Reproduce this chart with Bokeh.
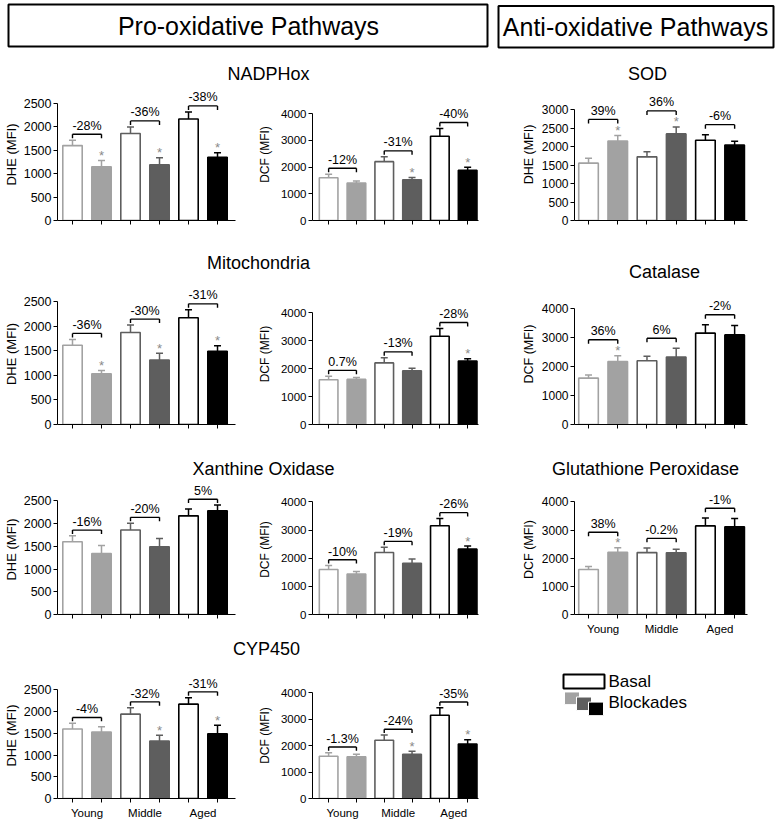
from bokeh.plotting import figure
from bokeh.layouts import row, column
from bokeh.models import Range1d, FixedTicker, ColumnDataSource
from bokeh.core.properties import value
from bokeh.embed import file_html
from bokeh.resources import INLINE

FONT = "Liberation Sans"

# ---------------- data ----------------
groups = ["Young", "Middle", "Aged"]

nadph_dhe_basal = [1600, 1860, 2170]
nadph_dhe_basal_err = [115, 140, 150]
nadph_dhe_block = [1150, 1190, 1350]
nadph_dhe_block_err = [130, 150, 100]
nadph_dhe_pct = ["-28%", "-36%", "-38%"]
nadph_dhe_sig = [True, True, True]

nadph_dcf_basal = [1600, 2200, 3150]
nadph_dcf_basal_err = [130, 180, 290]
nadph_dcf_block = [1400, 1520, 1880]
nadph_dcf_block_err = [80, 90, 110]
nadph_dcf_pct = ["-12%", "-31%", "-40%"]
nadph_dcf_sig = [False, True, True]

sod_basal = [1550, 1720, 2170]
sod_basal_err = [130, 140, 150]
sod_block = [2150, 2340, 2040]
sod_block_err = [150, 190, 100]
sod_pct = ["39%", "36%", "-6%"]
sod_sig = [True, True, False]

mito_dhe_basal = [1610, 1870, 2170]
mito_dhe_basal_err = [120, 150, 160]
mito_dhe_block = [1030, 1310, 1490]
mito_dhe_block_err = [70, 140, 110]
mito_dhe_pct = ["-36%", "-30%", "-31%"]
mito_dhe_sig = [True, True, True]

mito_dcf_basal = [1600, 2200, 3150]
mito_dcf_basal_err = [120, 180, 280]
mito_dcf_block = [1610, 1920, 2270]
mito_dcf_block_err = [70, 90, 80]
mito_dcf_pct = ["0.7%", "-13%", "-28%"]
mito_dcf_sig = [False, False, True]

cat_basal = [1600, 2200, 3150]
cat_basal_err = [110, 150, 290]
cat_block = [2170, 2330, 3090]
cat_block_err = [200, 300, 320]
cat_pct = ["36%", "6%", "-2%"]
cat_sig = [True, False, False]

xan_dhe_basal = [1600, 1860, 2170]
xan_dhe_basal_err = [130, 150, 150]
xan_dhe_block = [1340, 1490, 2280]
xan_dhe_block_err = [180, 180, 130]
xan_dhe_pct = ["-16%", "-20%", "5%"]
xan_dhe_sig = [False, False, False]

xan_dcf_basal = [1600, 2200, 3150]
xan_dcf_basal_err = [140, 190, 260]
xan_dcf_block = [1440, 1820, 2320]
xan_dcf_block_err = [90, 150, 115]
xan_dcf_pct = ["-10%", "-19%", "-26%"]
xan_dcf_sig = [False, False, True]

gpx_basal = [1600, 2200, 3150]
gpx_basal_err = [110, 160, 280]
gpx_block = [2210, 2195, 3120]
gpx_block_err = [160, 120, 290]
gpx_pct = ["38%", "-0.2%", "-1%"]
gpx_sig = [True, False, False]

cyp_dhe_basal = [1600, 1940, 2170]
cyp_dhe_basal_err = [130, 150, 150]
cyp_dhe_block = [1530, 1320, 1490]
cyp_dhe_block_err = [120, 135, 195]
cyp_dhe_pct = ["-4%", "-32%", "-31%"]
cyp_dhe_sig = [False, True, True]

cyp_dcf_basal = [1600, 2200, 3150]
cyp_dcf_basal_err = [130, 200, 280]
cyp_dcf_block = [1575, 1670, 2060]
cyp_dcf_block_err = [95, 120, 160]
cyp_dcf_pct = ["-1.3%", "-24%", "-35%"]
cyp_dcf_sig = [False, True, True]

legend_labels = ["Basal", "Blockades"]

# ---------------- styling / layout ----------------
LG = "#a2a2a2"
DG = "#5e5e5e"
BK = "#000000"
STAR = "#8a8a8a"
FILLS = ["white", LG, "white", DG, "white", BK]
EDGES = [LG, LG, DG, DG, BK, BK]
XS = [1, 2, 3, 4, 5, 6]

REF_X0, REF_X1 = 0, 778
REF_Y0, REF_Y1 = 0, 821
PAGE_W, PAGE_H = 778, 821
SX = PAGE_W / (REF_X1 - REF_X0)
SY = PAGE_H / (REF_Y1 - REF_Y0)


def X(r):
    return int(round((r - REF_X0) * SX))


def Y(r):
    return int(round((r - REF_Y0) * SY))


COLS = {
    "L": dict(x0=0, x1=243, axis=57, end=235, xr=(0.483, 6.62), tick_fs="12.5px",
              lab_fs="13px", lab_stand=2, gap=6),
    "M": dict(x0=243, x1=492, axis=312, end=478, xr=(0.42, 6.39), tick_fs="11.5px",
              lab_fs="12px", lab_stand=6, gap=6),
    "R": dict(x0=492, x1=778, axis=574, end=747, xr=(0.52, 6.44), tick_fs="12px",
              lab_fs="12.5px", lab_stand=3, gap=10),
}


def interleave(a, b):
    return [a[0], b[0], a[1], b[1], a[2], b[2]]


def make_panel(col, band, bottom, toptick, tmax, step, ylabel, basal, basal_err,
               block, block_err, pct, sig, show_x=False):
    c = COLS[col]
    W = X(c["x1"]) - X(c["x0"])
    H = Y(band[1]) - Y(band[0])
    bl = X(c["axis"]) - X(c["x0"])
    br = X(c["x1"]) - X(c["end"])
    bb = Y(band[1]) - Y(bottom)
    frame_h = H - bb
    ppu = (Y(bottom) - Y(toptick)) / tmax
    xr0, xr1 = c["xr"]
    ppx = (X(c["end"]) - X(c["axis"])) / (xr1 - xr0)

    p = figure(width=W, height=H, x_range=Range1d(xr0, xr1),
               y_range=Range1d(0, frame_h / ppu), output_backend="svg",
               toolbar_location=None, min_border_left=bl, min_border_right=br,
               min_border_top=0, min_border_bottom=bb)
    p.outline_line_color = None
    p.xgrid.visible = False
    p.ygrid.visible = False
    p.background_fill_color = "white"
    p.border_fill_color = "white"

    tops = interleave(basal, block)
    errs = interleave(basal_err, block_err)
    etop = [t + e for t, e in zip(tops, errs)]
    src = ColumnDataSource(dict(x=XS, top=tops, etop=etop, fill=FILLS, edge=EDGES))

    p.vbar(x="x", top="top", bottom=0, width=0.67, fill_color="fill",
           line_color="edge", line_width=1.6, source=src)
    p.segment(x0="x", y0="top", x1="x", y1="etop", line_color="edge",
              line_width=1.5, source=src)
    cap = 3.5 / ppx
    p.segment(x0=[x - cap for x in XS], y0=etop, x1=[x + cap for x in XS], y1=etop,
              line_color=EDGES, line_width=1.5)

    # significance asterisks
    sx_, sy_ = [], []
    for g in range(3):
        if sig[g]:
            sx_.append(XS[2 * g + 1])
            sy_.append(etop[2 * g + 1] + 5 / ppu)
    if sx_:
        p.text(x=sx_, y=sy_, text=["*"] * len(sx_), text_align="center",
               text_baseline="middle", text_color=STAR,
               text_font=value(FONT), text_font_size="13px")

    # brackets with percentage change
    gap = c["gap"]
    hx0, hx1, hy = [], [], []
    vx, vy0, vy1 = [], [], []
    tx, ty = [], []
    for g in range(3):
        i, j = 2 * g, 2 * g + 1
        lvl = max(etop[i] + gap / ppu,
                  etop[j] + ((6 if sig[g] else 0) + gap) / ppu)
        hx0.append(XS[i]); hx1.append(XS[j]); hy.append(lvl)
        for k in (i, j):
            vx.append(XS[k]); vy0.append(lvl); vy1.append(lvl - 4 / ppu)
        tx.append((XS[i] + XS[j]) / 2)
        ty.append(lvl + 8.5 / ppu)
    p.segment(x0=hx0, y0=hy, x1=hx1, y1=hy, line_color="black", line_width=1.4)
    p.segment(x0=vx, y0=vy0, x1=vx, y1=vy1, line_color="black", line_width=1.4)
    p.text(x=tx, y=ty, text=pct, text_align="center", text_baseline="middle",
           text_color="black", text_font=value(FONT), text_font_size="12.5px")

    # axes
    yax = p.yaxis[0]
    yax.ticker = FixedTicker(ticks=list(range(0, tmax + 1, step)), minor_ticks=[])
    yax.bounds = (0, tmax)
    yax.axis_label = ylabel
    yax.axis_label_text_font = FONT
    yax.axis_label_text_font_size = c["lab_fs"]
    yax.axis_label_text_font_style = "normal"
    yax.axis_label_text_color = "black"
    yax.axis_label_standoff = c["lab_stand"]
    yax.major_label_text_font = FONT
    yax.major_label_text_font_size = c["tick_fs"]
    yax.major_label_text_color = "black"
    yax.major_label_standoff = 2
    yax.major_tick_in = 0
    yax.major_tick_out = 4
    yax.minor_tick_in = 0
    yax.minor_tick_out = 0
    yax.axis_line_color = "black"
    yax.major_tick_line_color = "black"

    xax = p.xaxis[0]
    if show_x:
        xax.ticker = FixedTicker(ticks=[1.5, 3.5, 5.5], minor_ticks=XS)
        xax.major_label_overrides = {1.5: groups[0], 3.5: groups[1], 5.5: groups[2]}
    else:
        xax.ticker = FixedTicker(ticks=[], minor_ticks=XS)
    xax.major_tick_line_color = None
    xax.major_tick_in = 0
    xax.major_tick_out = 0
    xax.minor_tick_in = 0
    xax.minor_tick_out = 4
    xax.minor_tick_line_color = "black"
    xax.axis_line_color = "black"
    xax.major_label_standoff = 4
    xax.major_label_text_font = FONT
    xax.major_label_text_font_size = "11.5px"
    xax.major_label_text_color = "black"
    return p


def blank(x0, x1, band):
    p = figure(width=X(x1) - X(x0), height=Y(band[1]) - Y(band[0]),
               x_range=Range1d(x0, x1), y_range=Range1d(band[1], band[0]),
               x_axis_type=None, y_axis_type=None, output_backend="svg",
               toolbar_location=None, min_border=0)
    p.outline_line_color = None
    p.xgrid.visible = False
    p.ygrid.visible = False
    return p


def title(p, x, y, txt, size="18px"):
    p.text(x=[x], y=[y], text=[txt], text_align="center", text_baseline="middle",
           text_color="black", text_font=value(FONT), text_font_size=size)


# header strip + titles
s0 = blank(REF_X0, REF_X1, (0, 88))
s0.quad(left=[8, 498], right=[487, 773], top=[4, 5.5], bottom=[46, 47],
        fill_color=None, line_color="black", line_width=2)
title(s0, 248, 25.5, "Pro-oxidative Pathways", "25px")
title(s0, 635, 26.5, "Anti-oxidative Pathways", "25px")
title(s0, 268, 73, "NADPHox")
title(s0, 647, 73, "SOD")

s2 = blank(REF_X0, REF_X1, (236, 283))
title(s2, 258, 262, "Mitochondria")
title(s2, 664, 271, "Catalase")

s4 = blank(REF_X0, REF_X1, (440, 484))
title(s4, 263, 468, "Xanthine Oxidase")
title(s4, 645, 468, "Glutathione Peroxidase")

s6 = blank(REF_X0, REF_X1, (637, 672))
title(s6, 266, 648, "CYP450")

B1, B2, B3, B4 = (88, 236), (283, 440), (484, 637), (672, 821)

r1 = row(
    make_panel("L", B1, 220, 103, 2500, 500, "DHE (MFI)", nadph_dhe_basal, nadph_dhe_basal_err,
               nadph_dhe_block, nadph_dhe_block_err, nadph_dhe_pct, nadph_dhe_sig),
    make_panel("M", B1, 220, 113, 4000, 1000, "DCF (MFI)", nadph_dcf_basal, nadph_dcf_basal_err,
               nadph_dcf_block, nadph_dcf_block_err, nadph_dcf_pct, nadph_dcf_sig),
    make_panel("R", B1, 220, 109, 3000, 500, "DHE (MFI)", sod_basal, sod_basal_err,
               sod_block, sod_block_err, sod_pct, sod_sig),
)
r2 = row(
    make_panel("L", B2, 424, 301, 2500, 500, "DHE (MFI)", mito_dhe_basal, mito_dhe_basal_err,
               mito_dhe_block, mito_dhe_block_err, mito_dhe_pct, mito_dhe_sig),
    make_panel("M", B2, 424, 312, 4000, 1000, "DCF (MFI)", mito_dcf_basal, mito_dcf_basal_err,
               mito_dcf_block, mito_dcf_block_err, mito_dcf_pct, mito_dcf_sig),
    make_panel("R", B2, 424, 308, 4000, 1000, "DCF (MFI)", cat_basal, cat_basal_err,
               cat_block, cat_block_err, cat_pct, cat_sig),
)
r3 = row(
    make_panel("L", B3, 619, 501, 2500, 500, "DHE (MFI)", xan_dhe_basal, xan_dhe_basal_err,
               xan_dhe_block, xan_dhe_block_err, xan_dhe_pct, xan_dhe_sig),
    make_panel("M", B3, 619, 502, 4000, 1000, "DCF (MFI)", xan_dcf_basal, xan_dcf_basal_err,
               xan_dcf_block, xan_dcf_block_err, xan_dcf_pct, xan_dcf_sig),
    make_panel("R", B3, 618, 502, 4000, 1000, "DCF (MFI)", gpx_basal, gpx_basal_err,
               gpx_block, gpx_block_err, gpx_pct, gpx_sig, show_x=True),
)

leg = blank(492, REF_X1, B4)
leg.quad(left=[563], right=[604], top=[674.5], bottom=[691], fill_color="white",
         line_color="black", line_width=2)
leg.quad(left=[564, 576, 588], right=[579, 591, 603], top=[695, 701, 707],
         bottom=[710, 717, 723], fill_color=[LG, DG, BK], line_color="white", line_width=1)
leg.text(x=[608, 608], y=[683, 708], text=legend_labels, text_align="left",
         text_baseline="middle", text_color="black", text_font=value(FONT),
         text_font_size="17px")

r4 = row(
    make_panel("L", B4, 803, 690, 2500, 500, "DHE (MFI)", cyp_dhe_basal, cyp_dhe_basal_err,
               cyp_dhe_block, cyp_dhe_block_err, cyp_dhe_pct, cyp_dhe_sig, show_x=True),
    make_panel("M", B4, 803, 693, 4000, 1000, "DCF (MFI)", cyp_dcf_basal, cyp_dcf_basal_err,
               cyp_dcf_block, cyp_dcf_block_err, cyp_dcf_pct, cyp_dcf_sig, show_x=True),
    leg,
)

layout = column(s0, r1, s2, r2, s4, r3, s6, r4)

open("out.html", "w").write(file_html(layout, INLINE))
